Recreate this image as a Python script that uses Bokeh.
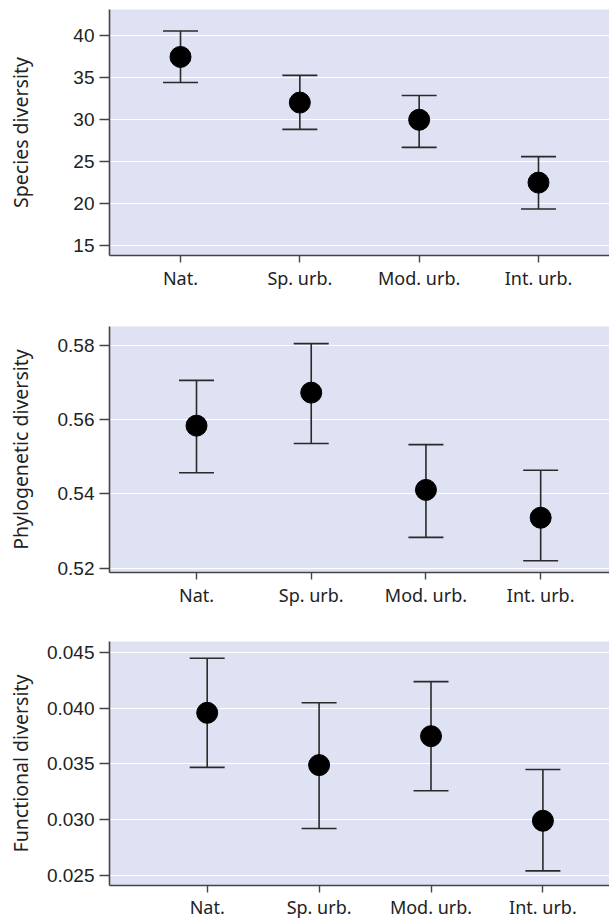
from bokeh.plotting import figure
from bokeh.layouts import column
from bokeh.models import FixedTicker, Range1d, NumeralTickFormatter
from bokeh.embed import file_html
from bokeh.resources import INLINE

categories = ["Nat.", "Sp. urb.", "Mod. urb.", "Int. urb."]
positions = [1, 2, 3, 4]

species_mean = [37.5, 32.05, 30.0, 22.5]
species_low = [34.45, 28.85, 26.7, 19.35]
species_high = [40.6, 35.3, 32.9, 25.6]
species_ticks = [15, 20, 25, 30, 35, 40]

phylo_mean = [0.5584, 0.5673, 0.5411, 0.5336]
phylo_low = [0.5457, 0.5536, 0.5283, 0.5220]
phylo_high = [0.5706, 0.5805, 0.5533, 0.5464]
phylo_ticks = [0.52, 0.54, 0.56, 0.58]

func_mean = [0.0396, 0.0349, 0.0375, 0.0299]
func_low = [0.0347, 0.0292, 0.0326, 0.0254]
func_high = [0.0445, 0.0405, 0.0424, 0.0345]
func_ticks = [0.025, 0.030, 0.035, 0.040, 0.045]

BG = "#dfe2f3"
AX = "#444444"
TXT = "#222222"


def panel(ylabel, mean, low, high, ticks, yr, xr, fmt, height, top, bottom, standoff, xstand):
    p = figure(width=609, height=height, output_backend="svg", toolbar_location=None,
               x_range=Range1d(*xr), y_range=Range1d(*yr),
               min_border_left=109, min_border_right=0,
               min_border_top=top, min_border_bottom=bottom)
    p.background_fill_color = BG
    p.border_fill_color = "white"
    p.outline_line_color = None
    p.xgrid.visible = False
    p.ygrid.grid_line_color = "white"
    p.ygrid.grid_line_width = 1.2
    p.ygrid.ticker = FixedTicker(ticks=ticks)

    p.xaxis.ticker = FixedTicker(ticks=positions)
    p.xaxis.major_label_overrides = {pos: c for pos, c in zip(positions, categories)}
    p.yaxis.ticker = FixedTicker(ticks=ticks)
    p.yaxis.formatter = NumeralTickFormatter(format=fmt)
    for ax in (p.xaxis, p.yaxis):
        ax.axis_line_color = AX
        ax.axis_line_width = 1.6
        ax.major_tick_line_color = AX
        ax.major_tick_line_width = 1.4
        ax.major_tick_in = 0
        ax.minor_tick_line_color = None
        ax.major_label_text_color = TXT
    p.xaxis.major_tick_out = 7
    p.yaxis.major_tick_out = 10
    p.xaxis.major_label_text_font = "Noto Sans"
    p.xaxis.major_label_text_font_size = "18px"
    p.yaxis.major_label_text_font = "Liberation Sans"
    p.yaxis.major_label_text_font_size = "19px"
    p.xaxis.major_label_standoff = xstand
    p.yaxis.major_label_standoff = 5
    p.yaxis.axis_label = ylabel
    p.yaxis.axis_label_text_font = "Noto Sans"
    p.yaxis.axis_label_text_font_style = "normal"
    p.yaxis.axis_label_text_font_size = "19.5px"
    p.yaxis.axis_label_text_color = TXT
    p.yaxis.axis_label_standoff = standoff

    p.segment(x0=positions, y0=low, x1=positions, y1=high, line_color="#2a2a2a", line_width=1.6)
    p.scatter(positions, low, marker="dash", size=35, line_color="#2a2a2a", line_width=1.6)
    p.scatter(positions, high, marker="dash", size=35, line_color="#2a2a2a", line_width=1.6)
    p.scatter(positions, mean, size=21, color="black")
    return p


p1 = panel("Species diversity", species_mean, species_low, species_high, species_ticks,
           (13.8, 43.16), (0.405, 4.595), "0", 315, 9, 60, 36, 3)
p2 = panel("Phylogenetic diversity", phylo_mean, phylo_low, phylo_high, phylo_ticks,
           (0.51884, 0.58512), (0.2415, 4.60), "0.00", 315, 11, 58, 21, 3)
p3 = panel("Functional diversity", func_mean, func_low, func_high, func_ticks,
           (0.024082, 0.046007), (0.127, 4.595), "0.000", 291, 11, 34, 10, 2)

layout = column(p1, p2, p3, spacing=0)
open("out.html", "w").write(file_html(layout, INLINE))
